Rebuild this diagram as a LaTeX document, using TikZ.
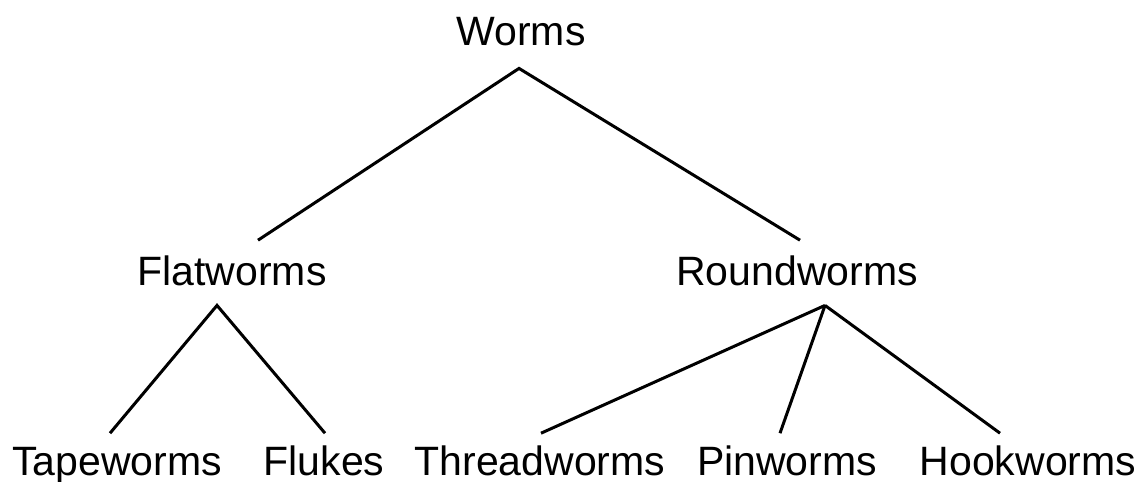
\documentclass[tikz,border=0pt]{standalone}
\usepackage{fontspec}
\setmainfont{Liberation Sans}
\usepackage{tikz}
\usetikzlibrary{positioning, calc}

\tikzset{
  lbl/.style={font=\fontsize{20.5}{24}\selectfont, inner sep=0pt, text height=14.7pt, text depth=0pt, anchor=base},
  link/.style={draw=black, line width=1.5pt}
}

\begin{document}
\begin{tikzpicture}[x=0.5pt, y=-0.5pt]
\useasboundingbox (0,0) rectangle (1143,481);
\node[lbl] (worms) at (521, 46) {Worms};
\node[lbl] (flat) at (232, 285) {Flatworms};
\node[lbl] (round) at (797, 285) {Roundworms};
\node[lbl] (tape) at (117, 475) {Tapeworms};
\node[lbl] (flukes) at (324, 475) {Flukes};
\node[lbl] (thread) at (540, 475) {Threadworms};
\node[lbl] (pin) at (787, 475) {Pinworms};
\node[lbl] (hook) at (1028, 475) {Hookworms};
\draw[link] ([xshift=13pt, yshift=7.5pt]flat.north) -- ([xshift=-1pt, yshift=-11pt]worms.south) -- ([xshift=1.5pt, yshift=7.5pt]round.north);
\draw[link] ([xshift=-3.5pt, yshift=6pt]tape.north) -- ([xshift=-7.5pt, yshift=-10pt]flat.south) -- ([xshift=0.5pt, yshift=6pt]flukes.north);
\draw[link] ([xshift=0.5pt, yshift=6pt]thread.north) -- ([xshift=14pt, yshift=-10pt]round.south);
\draw[link] ([xshift=-3.5pt, yshift=6pt]pin.north) -- ([xshift=14pt, yshift=-10pt]round.south);
\draw[link] ([xshift=-14pt, yshift=6pt]hook.north) -- ([xshift=14pt, yshift=-10pt]round.south);
\end{tikzpicture}
\end{document}
